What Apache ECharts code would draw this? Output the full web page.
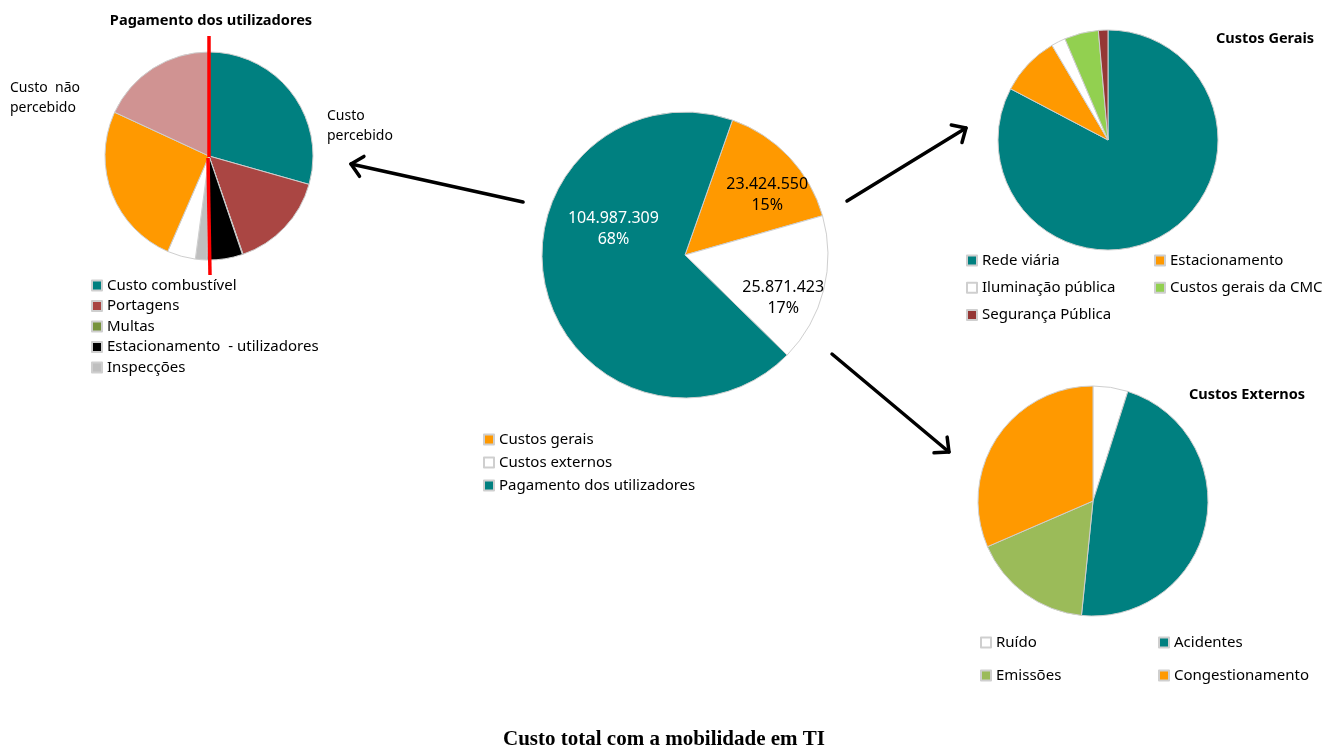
<!DOCTYPE html>
<html>
<head>
<meta charset="utf-8">
<title>Custo total com a mobilidade em TI</title>
<script src="https://cdn.jsdelivr.net/npm/echarts@6/dist/echarts.min.js"></script>
<style>
  html, body { margin: 0; padding: 0; background: #fff; }
  #chart { width: 1325px; height: 747px; }
</style>
</head>
<body>
<div id="chart"></div>
<script>
// ---- data ----
const mainNames = ['Custos gerais', 'Custos externos', 'Pagamento dos utilizadores'];
const mainValues = [23424550, 25871423, 104987309];

const userNames = ['Custo combustível', 'Portagens', 'Multas', 'Estacionamento  - utilizadores', 'Inspecções',
  'Não percebido 1', 'Não percebido 2', 'Não percebido 3'];
const userShares = [29.4, 15.3, 0.1, 5.5, 1.8, 4.4, 25.4, 18.1];
const userLegend = userNames.slice(0, 5);

const geraisNames = ['Rede viária', 'Estacionamento', 'Iluminação pública', 'Custos gerais da CMC', 'Segurança Pública'];
const geraisShares = [82.7, 8.8, 2.1, 5.0, 1.4];

const externosNames = ['Ruído', 'Acidentes', 'Emissões', 'Congestionamento'];
const externosShares = [4.9, 46.7, 16.9, 31.5];

// ---- styles ----
const FONT = '"Noto Sans", "Open Sans", sans-serif';
const BORDER = '#cfcfcf';
const mainColors = ['#FF9900', '#FFFFFF', '#008080'];
const mainLabelColors = ['#000', '#000', '#fff'];
const mainLabelOffsets = [[28, -9], [26, 25], [1, -43]];
const userColors = ['#008080', '#AA4643', '#77933C', '#000000', '#BFBFBF', '#FFFFFF', '#FF9900', '#D09392'];
const geraisColors = ['#008080', '#FF9900', '#FFFFFF', '#92D050', '#953735'];
const externosColors = ['#FFFFFF', '#008080', '#9BBB59', '#FF9900'];

function dotted(v) {
  return String(v).replace(/\B(?=(\d{3})+(?!\d))/g, '.');
}

function pieData(names, values, colors) {
  return names.map((n, i) => ({ name: n, value: values[i], itemStyle: { color: colors[i] } }));
}

function legendBox(names, left, top, gap) {
  return {
    data: names,
    orient: 'vertical',
    left: left,
    top: top,
    padding: 0,
    itemGap: gap,
    itemWidth: 10,
    itemHeight: 10,
    icon: 'rect',
    selectedMode: false,
    textStyle: { fontFamily: FONT, fontSize: 15, color: '#000', padding: [0, 0, 0, 0] }
  };
}

function arrow(x1, y1, x2, y2) {
  const a = Math.atan2(y2 - y1, x2 - x1);
  const len = 15, ang = 0.75;
  const style = { stroke: '#000', lineWidth: 3.5, fill: null, lineCap: 'round', lineJoin: 'round' };
  return [
    { type: 'line', shape: { x1: x1, y1: y1, x2: x2, y2: y2 }, style: style },
    {
      type: 'polyline',
      shape: {
        points: [
          [x2 - len * Math.cos(a - ang), y2 - len * Math.sin(a - ang)],
          [x2, y2],
          [x2 - len * Math.cos(a + ang), y2 - len * Math.sin(a + ang)]
        ]
      },
      style: style
    }
  ];
}

function label(text, x, y, font, align) {
  return {
    type: 'text', x: x, y: y, z: 20,
    style: { text: text, font: font, fill: '#000', align: align || 'center', verticalAlign: 'middle', lineHeight: 20 }
  };
}

const chart = echarts.init(document.getElementById('chart'));

const mainData = mainNames.map((n, i) => ({
  name: n,
  value: mainValues[i],
  itemStyle: { color: mainColors[i] },
  label: { color: mainLabelColors[i], offset: mainLabelOffsets[i] }
}));

const baseSeries = {
  type: 'pie',
  silent: true,
  animation: false,
  label: { show: false },
  labelLine: { show: false },
  itemStyle: { borderColor: BORDER, borderWidth: 1 }
};

const option = {
  backgroundColor: '#fff',
  textStyle: { fontFamily: FONT },
  legend: [
    legendBox(mainNames, 483, 432, 8),
    legendBox(userLegend, 91, 278, 5.5),
    legendBox(['Rede viária', 'Iluminação pública', 'Segurança Pública'], 966, 253, 12.3),
    legendBox(['Estacionamento', 'Custos gerais da CMC'], 1154, 253, 12.3),
    legendBox(['Ruído', 'Emissões'], 980, 635, 18),
    legendBox(['Acidentes', 'Congestionamento'], 1158, 635, 18)
  ],
  series: [
    Object.assign({}, baseSeries, {
      name: 'pie-total',
      center: [685, 255],
      radius: [0, 143],
      startAngle: 70.6,
      data: mainData,
      label: {
        show: true,
        position: 'inside',
        fontFamily: FONT,
        fontSize: 16,
        lineHeight: 21,
        formatter: (p) => dotted(p.value) + '\n' + Math.round(p.percent) + '%'
      }
    }),
    Object.assign({}, baseSeries, {
      name: 'pie-utilizadores',
      center: [209, 156],
      radius: [0, 104],
      startAngle: 90,
      data: pieData(userNames, userShares, userColors)
    }),
    Object.assign({}, baseSeries, {
      name: 'pie-gerais',
      center: [1108, 140],
      radius: [0, 110],
      startAngle: 90,
      data: pieData(geraisNames, geraisShares, geraisColors)
    }),
    Object.assign({}, baseSeries, {
      name: 'pie-externos',
      center: [1093, 501],
      radius: [0, 115],
      startAngle: 90,
      data: pieData(externosNames, externosShares, externosColors)
    })
  ],
  graphic: [
    label('Pagamento dos utilizadores', 211, 21, 'bold 14.6px ' + FONT),
    label('Custos Gerais', 1265, 39, 'bold 14.5px ' + FONT),
    label('Custos Externos', 1247, 395, 'bold 14.5px ' + FONT),
    label('Custo  não\npercebido', 10, 98, '14px ' + FONT, 'left'),
    label('Custo\npercebido', 327, 126, '14px ' + FONT, 'left'),
    label('Custo total com a mobilidade em TI', 664, 740, 'bold 21px "Liberation Serif", "Times New Roman", serif'),
    // red divider on the user-payment pie
    { type: 'line', z: 20, shape: { x1: 209, y1: 36, x2: 209, y2: 157 }, style: { stroke: '#FF0000', lineWidth: 3.5 } },
    { type: 'line', z: 20, shape: { x1: 208, y1: 158, x2: 210, y2: 275 }, style: { stroke: '#FF0000', lineWidth: 3.5 } }
  ]
    .concat(arrow(523, 202, 351, 164))
    .concat(arrow(847, 201, 966, 128))
    .concat(arrow(832, 354, 949, 452))
};

chart.setOption(option);
window.addEventListener('resize', () => chart.resize());
</script>
</body>
</html>
